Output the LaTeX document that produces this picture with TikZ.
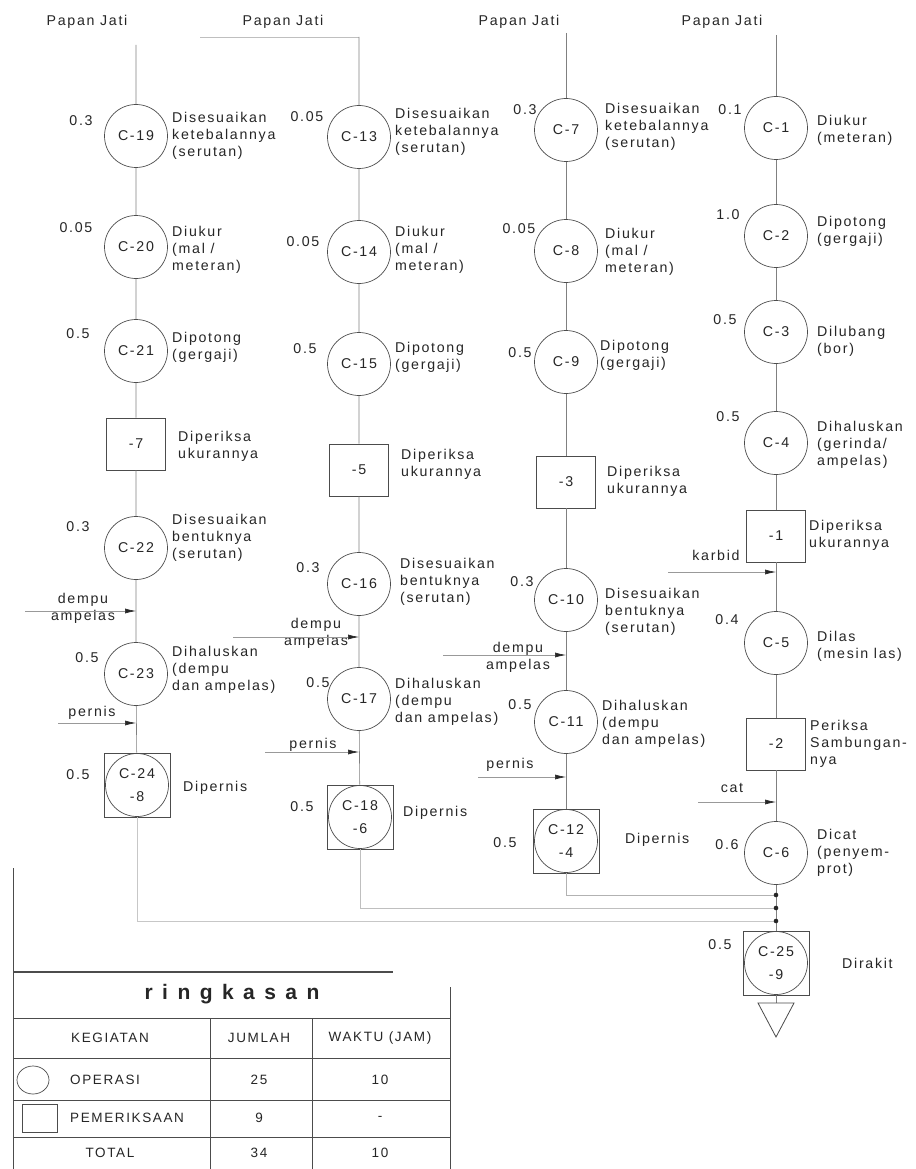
\documentclass[tikz,border=0pt]{standalone}
\usepackage{fontspec}
\setmainfont{Liberation Sans}[LetterSpace=12]
\newfontfamily\titlefont{Liberation Sans}[LetterSpace=45]
\usetikzlibrary{arrows.meta}
\tikzset{
  txt/.style={font=\fontsize{14.2}{17}\selectfont, text=black!85, inner sep=0pt},
  op/.style={circle, draw=black!70, line width=0.7pt, minimum size=63pt, inner sep=0pt, txt},
  insp/.style={rectangle, draw=black!70, line width=0.7pt, minimum width=59pt, minimum height=52pt, inner sep=0pt, txt},
  comb/.style={rectangle, draw=black!70, line width=0.7pt, minimum width=66pt, minimum height=64pt, inner sep=0pt, align=center, txt, font=\fontsize{14.2}{23}\selectfont,
    path picture={\draw[black!70,line width=0.7pt] (path picture bounding box.center) circle (31.5pt);}},
  desc/.style={txt, anchor=west, align=left},
  tm/.style={txt},
  lbl/.style={txt, align=center},
  flow/.style={draw=black!50, line width=0.6pt},
  feed/.style={draw=black!40, line width=0.6pt, -{Latex[length=11pt,width=5pt,color=black!85]}},
  tbl/.style={draw=black!70, line width=0.8pt},
  tt/.style={font=\fontsize{13.5}{15}\selectfont, text=black!85, inner sep=0pt},
}
\begin{document}
\begin{tikzpicture}[x=1pt,y=-1pt]
\fill[white] (0,0) rectangle (915,1169);
\path[use as bounding box] (0,0) rectangle (915,1169);

% ---------------- Column 1 ----------------
\node[txt] (h1) at (87,22) {Papan Jati};
\coordinate (s1) at (136,45);
\node[op] (n19) at (136,136) {C-19};
\node[tm] (t19) at (81,121) {0.3};
\node[desc] (d19) at (172,136) {Disesuaikan\\ketebalannya\\(serutan)};
\node[op] (n20) at (136,247) {C-20};
\node[tm] (t20) at (76,228) {0.05};
\node[desc] (d20) at (172,250) {Diukur\\(mal /\\meteran)};
\node[op] (n21) at (136,351) {C-21};
\node[tm] (t21) at (78,334) {0.5};
\node[desc] (d21) at (172,347) {Dipotong\\(gergaji)};
\node[insp] (i7) at (136,444) {-7};
\node[desc] (di7) at (178,446) {Diperiksa\\ukurannya};
\node[op] (n22) at (136,548) {C-22};
\node[tm] (t22) at (78,527) {0.3};
\node[desc] (d22) at (172,538) {Disesuaikan\\bentuknya\\(serutan)};
\coordinate (fa1s) at (25,611);
\coordinate (fa1t) at (136,611);
\node[lbl] (la1) at (83,608) {dempu\\ampelas};
\node[op] (n23) at (136,674) {C-23};
\node[tm] (t23) at (87,658) {0.5};
\node[desc] (d23) at (172,670) {Dihaluskan\\(dempu\\dan ampelas)};
\coordinate (fa2s) at (58,723);
\coordinate (fa2t) at (136,723);
\node[lbl] (la2) at (92,713) {pernis};
\node[comb] (c24) at (137,785) {C-24\\-8};
\node[tm] (t24) at (78,775) {0.5};
\node[desc] (d24) at (183,788) {Dipernis};

% ---------------- Column 2 ----------------
\node[txt] (h2) at (283,22) {Papan Jati};
\coordinate (s2l) at (200,37);
\coordinate (s2) at (359,37);
\node[op] (n13) at (359,137) {C-13};
\node[tm] (t13) at (307,117) {0.05};
\node[desc] (d13) at (395,132) {Disesuaikan\\ketebalannya\\(serutan)};
\node[op] (n14) at (359,252) {C-14};
\node[tm] (t14) at (303,242) {0.05};
\node[desc] (d14) at (395,250) {Diukur\\(mal /\\meteran)};
\node[op] (n15) at (359,364) {C-15};
\node[tm] (t15) at (305,349) {0.5};
\node[desc] (d15) at (395,357) {Dipotong\\(gergaji)};
\node[insp] (i5) at (359,470) {-5};
\node[desc] (di5) at (401,464) {Diperiksa\\ukurannya};
\node[op] (n16) at (359,584) {C-16};
\node[tm] (t16) at (308,568) {0.3};
\node[desc] (d16) at (400,582) {Disesuaikan\\bentuknya\\(serutan)};
\coordinate (fb1s) at (233,637);
\coordinate (fb1t) at (359,637);
\node[lbl] (lb1) at (316,633) {dempu\\ampelas};
\node[op] (n17) at (359,699) {C-17};
\node[tm] (t17) at (318,683) {0.5};
\node[desc] (d17) at (395,702) {Dihaluskan\\(dempu\\dan ampelas)};
\coordinate (fb2s) at (265,752);
\coordinate (fb2t) at (359,752);
\node[lbl] (lb2) at (313,745) {pernis};
\node[comb] (c18) at (360,817) {C-18\\-6};
\node[tm] (t18) at (302,807) {0.5};
\node[desc] (d18) at (403,813) {Dipernis};

% ---------------- Column 3 ----------------
\node[txt] (h3) at (519,22) {Papan Jati};
\coordinate (s3) at (566,33);
\node[op] (n7) at (566,130) {C-7};
\node[tm] (t7) at (525,110) {0.3};
\node[desc] (d7) at (605,127) {Disesuaikan\\ketebalannya\\(serutan)};
\node[op] (n8) at (566,251) {C-8};
\node[tm] (t8) at (519,229) {0.05};
\node[desc] (d8) at (605,252) {Diukur\\(mal /\\meteran)};
\node[op] (n9) at (566,362) {C-9};
\node[tm] (t9) at (520,353) {0.5};
\node[desc] (d9) at (600,355) {Dipotong\\(gergaji)};
\node[insp] (i3) at (566,482) {-3};
\node[desc] (di3) at (607,481) {Diperiksa\\ukurannya};
\node[op] (n10) at (566,600) {C-10};
\node[tm] (t10) at (522,582) {0.3};
\node[desc] (d10) at (605,612) {Disesuaikan\\bentuknya\\(serutan)};
\coordinate (fc1s) at (443,655);
\coordinate (fc1t) at (566,655);
\node[lbl] (lc1) at (518,657) {dempu\\ampelas};
\node[op] (n11) at (566,722) {C-11};
\node[tm] (t11) at (520,705) {0.5};
\node[desc] (d11) at (602,724) {Dihaluskan\\(dempu\\dan ampelas)};
\coordinate (fc2s) at (478,777);
\coordinate (fc2t) at (566,777);
\node[lbl] (lc2) at (510,765) {pernis};
\node[comb] (c12) at (566,841) {C-12\\-4};
\node[tm] (t12) at (505,843) {0.5};
\node[desc] (d12) at (625,840) {Dipernis};

% ---------------- Column 4 ----------------
\node[txt] (h4) at (722,22) {Papan Jati};
\coordinate (s4) at (776,35);
\node[op] (n1) at (776,128) {C-1};
\node[tm] (t1) at (730,110) {0.1};
\node[desc] (d1) at (817,130) {Diukur\\(meteran)};
\node[op] (n2) at (776,236) {C-2};
\node[tm] (t2) at (728,215) {1.0};
\node[desc] (d2) at (817,231) {Dipotong\\(gergaji)};
\node[op] (n3) at (776,332) {C-3};
\node[tm] (t3) at (725,320) {0.5};
\node[desc] (d3) at (817,341) {Dilubang\\(bor)};
\node[op] (n4) at (776,443) {C-4};
\node[tm] (t4) at (728,417) {0.5};
\node[desc] (d4) at (817,445) {Dihaluskan\\(gerinda/\\ampelas)};
\node[insp] (i1) at (776,536) {-1};
\node[desc] (di1) at (809,535) {Diperiksa\\ukurannya};
\coordinate (fd1s) at (668,572);
\coordinate (fd1t) at (776,572);
\node[lbl] (ld1) at (716,555) {karbid};
\node[op] (n5) at (776,643) {C-5};
\node[tm] (t5) at (727,620) {0.4};
\node[desc] (d5) at (817,646) {Dilas\\(mesin las)};
\node[insp] (i2) at (776,744) {-2};
\node[desc] (di2) at (810,744) {Periksa\\Sambungan-\\nya};
\coordinate (fd2s) at (698,802);
\coordinate (fd2t) at (776,802);
\node[lbl] (ld2) at (732,788) {cat};
\node[op] (n6) at (776,853) {C-6};
\node[tm] (t6) at (727,845) {0.6};
\node[desc] (d6) at (817,853) {Dicat\\(penyem-\\prot)};
\coordinate (j3) at (776,895);
\coordinate (j2) at (776,908);
\coordinate (j1) at (776,921);
\node[comb] (c25) at (776,963) {C-25\\-9};
\node[tm] (t25) at (720,945) {0.5};
\node[desc] (d25) at (842,963) {Dirakit};
\coordinate (tri) at (776,1003);

% ---------------- Flow lines ----------------
\draw[flow, draw=black!25] (s2l) -- (s2);
\draw[flow] (s1) -- (n19) -- (n20) -- (n21) -- (i7) -- (n22) -- (n23) -- (c24);
\draw[flow] (s2) -- (n13) -- (n14) -- (n15) -- (i5) -- (n16) -- (n17) -- (c18);
\draw[flow] (s3) -- (n7) -- (n8) -- (n9) -- (i3) -- (n10) -- (n11) -- (c12);
\draw[flow] (s4) -- (n1) -- (n2) -- (n3) -- (n4) -- (i1) -- (n5) -- (i2) -- (n6) -- (c25) -- (tri);
\draw[flow, draw=black!30] (c12.south) |- (j3);
\draw[flow, draw=black!25] (c18.south) |- (j2);
\draw[flow, draw=black!22] (c24.south) |- (j1);
\foreach \j in {j1,j2,j3} \fill[black!85] (\j) circle (2.3pt);
\draw[black!70, line width=0.8pt] (tri) ++(-18,0) -- ++(36,0) -- (776,1037) -- cycle;

% ---------------- Feed arrows ----------------
\draw[feed] (fa1s) -- (fa1t);
\draw[feed] (fa2s) -- (fa2t);
\draw[feed] (fb1s) -- (fb1t);
\draw[feed] (fb2s) -- (fb2t);
\draw[feed] (fc1s) -- (fc1t);
\draw[feed] (fc2s) -- (fc2t);
\draw[feed] (fd1s) -- (fd1t);
\draw[feed] (fd2s) -- (fd2t);

% ---------------- Summary table ----------------
\draw[tbl] (13,868) -- (13,1169);
\draw[tbl, line width=1.3pt] (13,972) -- (393,972);
\draw[tbl] (450,987) -- (450,1169);
\foreach \yy in {1018,1058,1100,1137} \draw[tbl] (13,\yy) -- (450,\yy);
\draw[tbl] (210,1018) -- (210,1169);
\draw[tbl] (312,1018) -- (312,1169);
\node[inner sep=0pt, text=black!85] (ttl) at (232,994) {\titlefont\bfseries\fontsize{21}{24}\selectfont ringkasan};
\node[tt] (k1) at (110,1038) {KEGIATAN};
\node[tt] (k2) at (259,1038) {JUMLAH};
\node[tt] (k3) at (380,1038) {WAKTU (JAM)};
\draw[black!70, line width=0.7pt] (33,1080) ellipse (16pt and 14pt);
\node[tt, anchor=west] (r1a) at (70,1080) {OPERASI};
\node[tt] (r1b) at (259,1080) {25};
\node[tt] (r1c) at (380,1080) {10};
\draw[black!70, line width=0.7pt] (22,1104) rectangle (57,1132);
\node[tt, anchor=west] (r2a) at (70,1118) {PEMERIKSAAN};
\node[tt] (r2b) at (259,1118) {9};
\node[tt] (r2c) at (380,1118) {-};
\node[tt] (r3a) at (110,1153) {TOTAL};
\node[tt] (r3b) at (259,1153) {34};
\node[tt] (r3c) at (380,1153) {10};
\end{tikzpicture}
\end{document}
